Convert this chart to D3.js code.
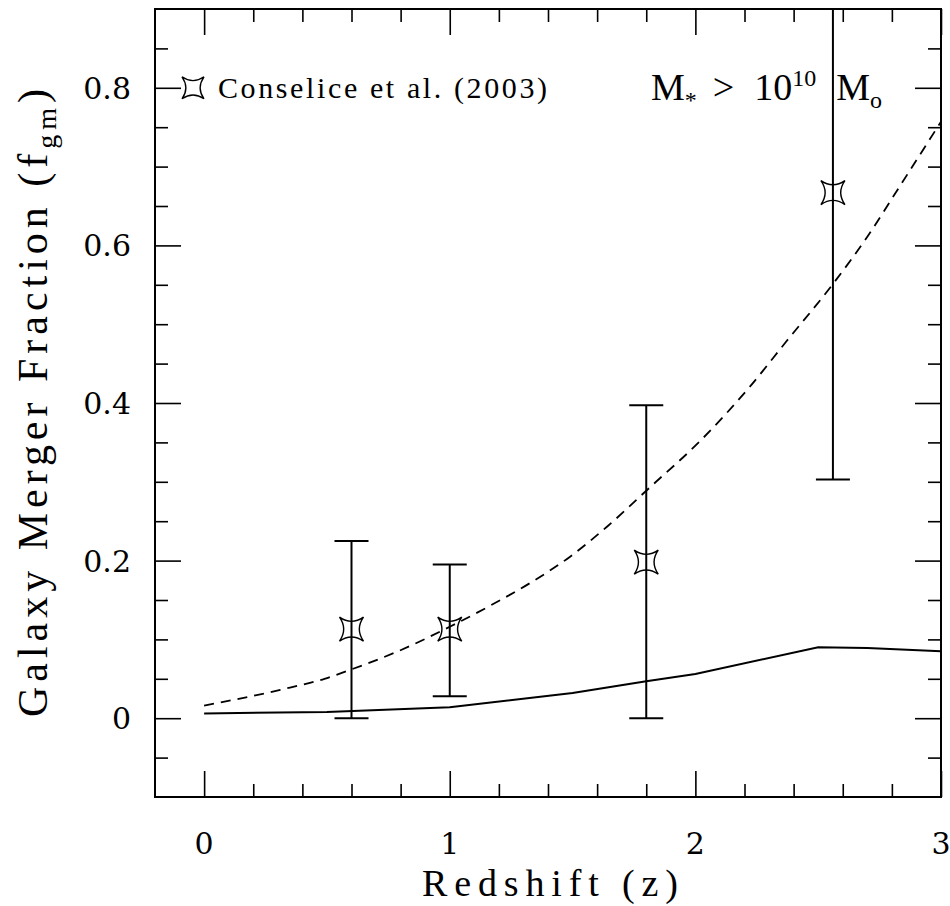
<!DOCTYPE html>
<html><head><meta charset="utf-8">
<script src="https://cdn.jsdelivr.net/npm/d3@7"></script>
<style>body{margin:0;background:#fff}svg{display:block}</style>
</head><body>
<svg id="c" width="950" height="906"></svg>
<script>
// Observations: Conselice et al. (2003)
const obsZ  = [0.6, 1.0, 1.8, 2.56];
const obsF  = [0.113, 0.113, 0.198, 0.667];
const obsLo = [0.0, 0.028, 0.0, 0.303];
const obsHi = [0.225, 0.195, 0.397, 1.03];
// Solid model curve
const solidZ = [0, 0.5, 1.0, 1.5, 1.8, 2.0, 2.5, 2.7, 3.0];
const solidF = [0.006, 0.008, 0.014, 0.032, 0.047, 0.056, 0.090, 0.089, 0.085];
// Dashed model curve
const dashZ = [0, 0.31, 0.49, 0.6, 0.79, 1.0, 1.16, 1.34, 1.49, 1.64, 1.815, 2.02, 2.22, 2.37, 2.56, 2.7, 2.83, 3.0];
const dashF = [0.016, 0.036, 0.050, 0.062, 0.085, 0.116, 0.142, 0.174, 0.205, 0.243, 0.293, 0.352, 0.420, 0.478, 0.551, 0.611, 0.674, 0.757];
// Axis ticks
const xMajor = [0, 1, 2, 3];
const xMinor = [0.2,0.4,0.6,0.8,1.2,1.4,1.6,1.8,2.2,2.4,2.6,2.8];
const yMajor = [0, 0.2, 0.4, 0.6, 0.8];
const yMinor = [-0.05,0.05,0.1,0.15,0.25,0.3,0.35,0.45,0.5,0.55,0.65,0.7,0.75,0.85];
const xTickLabels = ["0","1","2","3"];
const yTickLabels = ["0","0.2","0.4","0.6","0.8"];

const L = 155, R = 941, T = 9, B = 797;
const x = d3.scaleLinear().domain([-0.2, 3]).range([L, R]);
const y = d3.scaleLinear().domain([-0.1, 0.9]).range([B, T]);
const svg = d3.select("#c");
const font = "'Liberation Serif', 'DejaVu Serif', serif";
const dfont = "'DejaVu Serif', 'Liberation Serif', serif";

svg.append("defs").append("clipPath").attr("id","clip")
  .append("rect").attr("x",L).attr("y",T).attr("width",R-L).attr("height",B-T);

const g = svg.append("g");
g.append("rect").attr("x",L).attr("y",T).attr("width",R-L).attr("height",B-T)
  .attr("fill","none").attr("stroke","#000").attr("stroke-width",2);

function tickAxis(axisFn, scale, vals, len, tx){
  const a = axisFn(scale).tickValues(vals).tickSize(-len).tickFormat("");
  const gg = g.append("g").attr("transform",tx).call(a);
  gg.select(".domain").remove();
  gg.selectAll("line").attr("stroke","#000").attr("stroke-width",1.6);
  return gg;
}
tickAxis(d3.axisBottom, x, xMajor, 26, `translate(0,${B})`);
tickAxis(d3.axisBottom, x, xMinor, 13, `translate(0,${B})`);
tickAxis(d3.axisTop, x, xMajor, 26, `translate(0,${T})`);
tickAxis(d3.axisTop, x, xMinor, 13, `translate(0,${T})`);
tickAxis(d3.axisLeft, y, yMajor, 26, `translate(${L},0)`);
tickAxis(d3.axisLeft, y, yMinor, 13, `translate(${L},0)`);
tickAxis(d3.axisRight, y, yMajor, 26, `translate(${R},0)`);
tickAxis(d3.axisRight, y, yMinor, 13, `translate(${R},0)`);

// tick labels
g.selectAll(".xl").data(xMajor).join("text")
  .attr("x", d => x(d)).attr("y", 854)
  .attr("text-anchor","middle").attr("font-family",dfont).attr("font-size",30)
  .text((d,i) => xTickLabels[i]);
g.selectAll(".yl").data(yMajor).join("text")
  .attr("x", 131).attr("y", d => y(d) + 11)
  .attr("text-anchor","end").attr("font-family",dfont).attr("font-size",30)
  .text((d,i) => yTickLabels[i]);

// axis titles
g.append("text").attr("x", 550).attr("y", 896)
  .attr("text-anchor","middle").attr("font-family",font).attr("font-size",38)
  .attr("textLength",256).attr("lengthAdjust","spacing")
  .text("Redshift (z)");
const yt = g.append("text").attr("transform",`translate(47,${(T+B)/2}) rotate(-90)`)
  .attr("text-anchor","middle").attr("font-family",font).attr("font-size",42)
  .attr("textLength",628).attr("lengthAdjust","spacing");
yt.append("tspan").text("Galaxy Merger Fraction (f");
yt.append("tspan").attr("font-size",28).attr("dy",9).text("gm");
yt.append("tspan").attr("dy",-9).text(")");

// data layer
const dg = svg.append("g").attr("clip-path","url(#clip)");
const solid = solidZ.map((z,i)=>[z, solidF[i]]);
const dash = dashZ.map((z,i)=>[z, dashF[i]]);
dg.append("path").datum(solid)
  .attr("d", d3.line().x(d=>x(d[0])).y(d=>y(d[1])))
  .attr("fill","none").attr("stroke","#000").attr("stroke-width",2);
dg.append("path").datum(dash)
  .attr("d", d3.line().curve(d3.curveMonotoneX).x(d=>x(d[0])).y(d=>y(d[1])))
  .attr("fill","none").attr("stroke","#000").attr("stroke-width",1.8)
  .attr("stroke-dasharray","10,7");

const obs = obsZ.map((z,i)=>({z, f:obsF[i], lo:obsLo[i], hi:obsHi[i]}));
const cap = 17;
dg.selectAll(".eb").data(obs).join("line")
  .attr("x1",d=>x(d.z)).attr("x2",d=>x(d.z)).attr("y1",d=>y(d.lo)).attr("y2",d=>y(d.hi))
  .attr("stroke","#000").attr("stroke-width",2);
dg.selectAll(".cl").data(obs).join("line")
  .attr("x1",d=>x(d.z)-cap).attr("x2",d=>x(d.z)+cap).attr("y1",d=>y(d.lo)).attr("y2",d=>y(d.lo))
  .attr("stroke","#000").attr("stroke-width",2);
dg.selectAll(".ch").data(obs).join("line")
  .attr("x1",d=>x(d.z)-cap).attr("x2",d=>x(d.z)+cap).attr("y1",d=>y(d.hi)).attr("y2",d=>y(d.hi))
  .attr("stroke","#000").attr("stroke-width",2);

function star(r){
  const k = r*0.3;
  return `M${-r},${-r} Q0,${-k} ${r},${-r} Q${k},0 ${r},${r} Q0,${k} ${-r},${r} Q${-k},0 ${-r},${-r} Z`;
}
dg.selectAll(".st").data(obs).join("path")
  .attr("transform",d=>`translate(${x(d.z)},${y(d.f)})`)
  .attr("d", star(12)).attr("fill","none").attr("stroke","#000").attr("stroke-width",1.4);

// legend
g.append("path").attr("transform",`translate(193,${y(0.8)})`).attr("d",star(11))
  .attr("fill","none").attr("stroke","#000").attr("stroke-width",1.4);
g.append("text").attr("x",218).attr("y",y(0.8)+10)
  .attr("font-family",font).attr("font-size",30)
  .attr("textLength",329).attr("lengthAdjust","spacing")
  .text("Conselice et al. (2003)");

// mass label
const mt = g.append("text").attr("x",651).attr("y",y(0.8)+12)
  .attr("font-family",font).attr("font-size",38);
mt.append("tspan").text("M");
mt.append("tspan").attr("font-size",24).attr("dy",8).text("*");
mt.append("tspan").attr("dy",-8).attr("dx",16).text(">");
mt.append("tspan").attr("dx",20).text("10");
mt.append("tspan").attr("font-size",24).attr("dy",-14).text("10");
mt.append("tspan").attr("dy",14).attr("dx",20).text("M");
mt.append("tspan").attr("font-size",24).attr("dy",8).text("o");
</script>
</body></html>
